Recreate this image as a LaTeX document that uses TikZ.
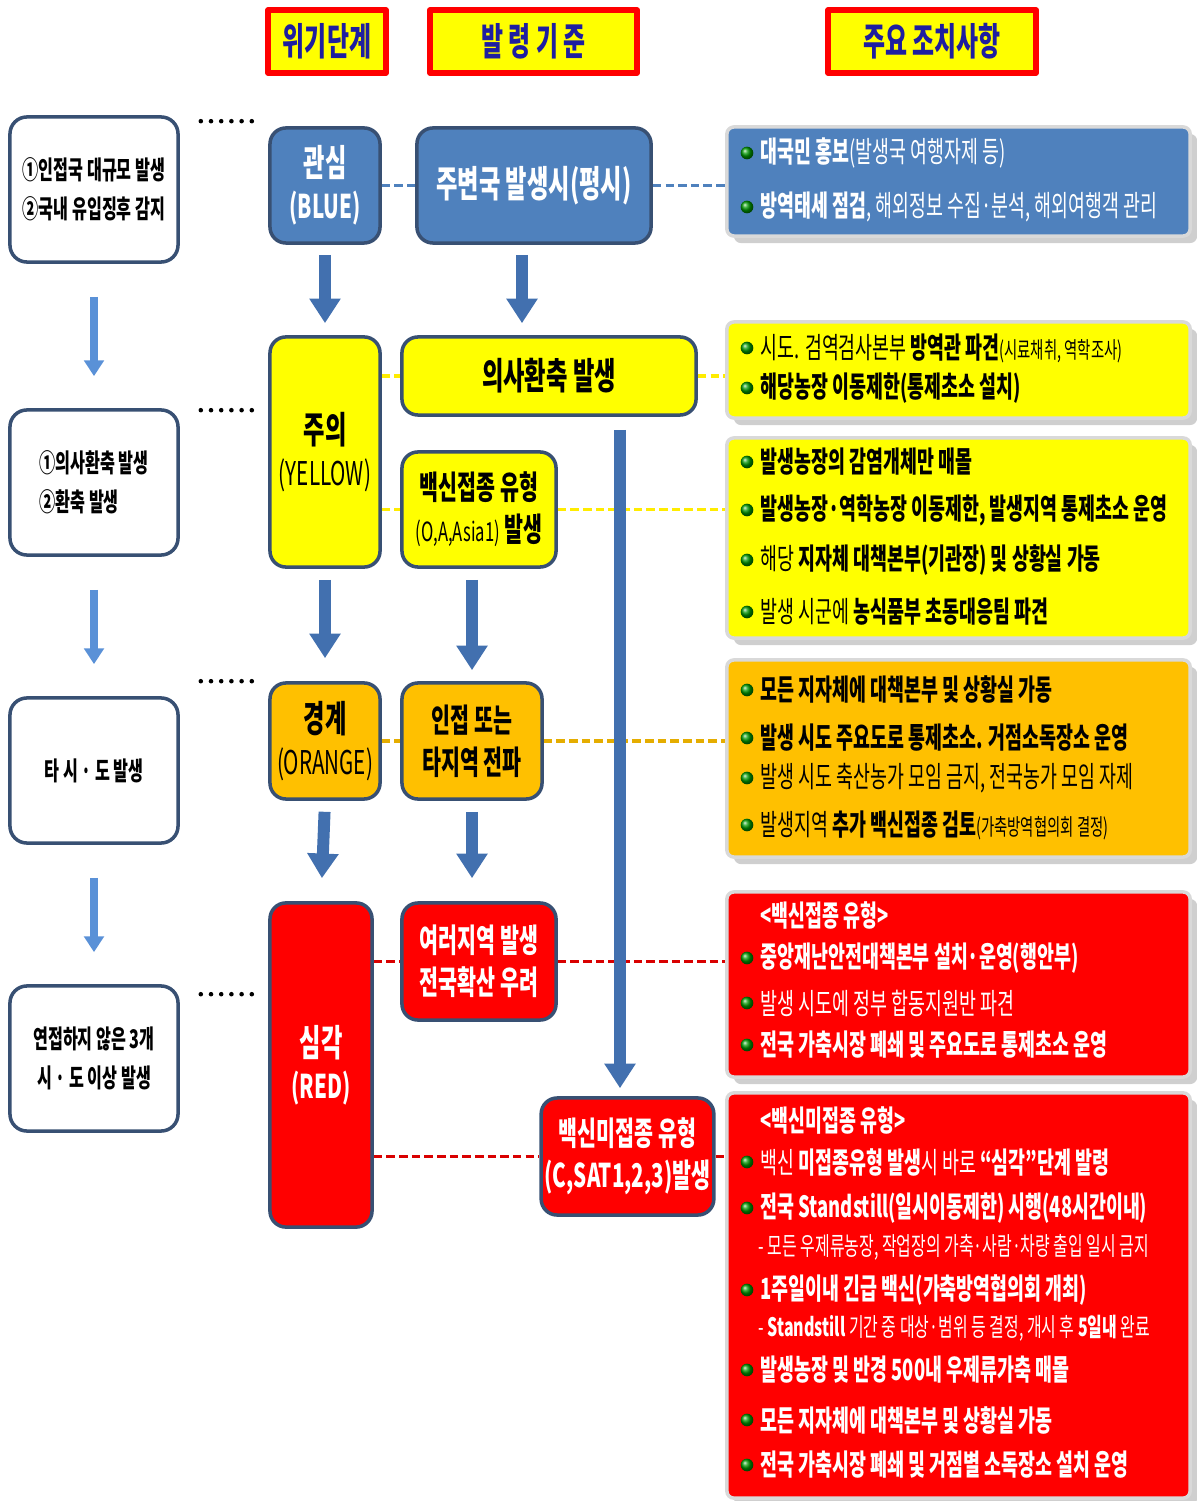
\documentclass[tikz,border=0pt]{standalone}
\usepackage{fontspec}
\setmainfont{Noto Sans CJK KR}[FakeStretch=0.63]
\usetikzlibrary{arrows.meta,shadows}
\definecolor{stblue}{RGB}{79,129,189}
\definecolor{arblue}{RGB}{66,112,175}
\definecolor{edge}{RGB}{56,80,115}
\definecolor{hdblue}{RGB}{30,30,160}
\definecolor{alarm}{RGB}{255,0,0}
\definecolor{amber}{RGB}{255,192,0}
\definecolor{lemon}{RGB}{255,255,0}
\definecolor{leftarr}{RGB}{90,145,215}
\newcommand\hsz{\fontsize{10.5}{13}\selectfont}
\newcommand\msz{\fontsize{9.3}{12}\selectfont}
\newcommand\lsz{\fontsize{8.3}{10}\selectfont}
\newcommand\ssm{\fontsize{6.5}{8}\selectfont}
\begin{document}
\begin{tikzpicture}[x=0.01cm,y=-0.01cm,line join=round,
	hd/.style={draw=red,line width=1.6pt,fill=lemon,text=hdblue,font=\fontsize{10.8}{12}\selectfont\bfseries,minimum height=0.63cm},
	lbox/.style={draw=edge,line width=1pt,rounded corners=0.17cm,fill=white,minimum width=1.68cm,minimum height=1.45cm,font=\fontsize{7.3}{11}\selectfont\bfseries},
	stg/.style={draw=edge,line width=1pt,rounded corners=0.16cm,align=center,inner sep=1pt,font=\bfseries},
	act/.style={draw=gray!30,line width=1pt,rounded corners=2pt,minimum width=4.63cm,drop shadow={shadow xshift=2pt,shadow yshift=-2pt,fill=gray!75}},
	bul/.style={circle,inner sep=0pt,minimum size=3.6pt,shading=ball,ball color={green!60!black}},
	itm/.style={anchor=west,inner sep=0pt,font=\lsz},
	larr/.style={leftarr,line width=2pt,-{Triangle[width=5.5pt,length=4.5pt]}},
	barr/.style={arblue,line width=3.4pt,-{Triangle[width=8.5pt,length=7pt]}},
	dl/.style={line width=1.1pt,dash pattern=on 2.4pt off 1.2pt},
	dots/.style={line width=1.3pt,line cap=round,dash pattern=on 0pt off 2.9pt}]
	\useasboundingbox (0,0) rectangle (1196,1501);
	% headers
	\node[hd,minimum width=1.18cm] (h1) at (327,41.5) {위기단계};
	\node[hd,minimum width=2.07cm] (h2) at (533.5,41.5) {발\ 령\ 기\ 준};
	\node[hd,minimum width=2.08cm] (h3) at (932,41.5) {주요 조치사항};
	% left column
	\node[lbox,align=left] (l1) at (94,189.5) {①인접국 대규모 발생\\②국내 유입징후 감지};
	\node[lbox,align=left] (l2) at (94,482.5) {①의사환축 발생\\②환축 발생};
	\node[lbox,align=center] (l3) at (94,770.5) {타 시 · 도 발생};
	\node[lbox,align=center] (l4) at (94,1058.5) {연접하지 않은 3개\\시 · 도 이상 발생};
	\foreach \a/\b in {l1/l2,l2/l3,l3/l4}
		\draw[larr,shorten <=0.33cm,shorten >=0.32cm] (\a.south) -- (\b.north);
	\foreach \n/\dy in {l1/6,l2/2,l3/-15,l4/10}
		\draw[dots] ([shift={(21,\dy)}]\n.north east) -- ++(58,0);
	% stages
	\node[stg,fill=stblue,text=white,minimum width=1.10cm,minimum height=1.15cm] (s1) at (325,185.5) {{\hsz 관심}\\{\msz (BLUE)}};
	\node[stg,fill=lemon,minimum width=1.10cm,minimum height=2.30cm] (s2) at (325,452) {{\hsz 주의}\\{\msz\mdseries (YELLOW)}};
	\node[stg,fill=amber,minimum width=1.10cm,minimum height=1.16cm] (s3) at (325,741) {{\hsz 경계}\\{\msz\mdseries (ORANGE)}};
	\node[stg,fill=alarm,text=white,minimum width=1.02cm,minimum height=3.24cm] (s4) at (321,1065) {{\hsz 심각}\\{\msz (RED)}};
	% criteria
	\node[stg,fill=stblue,text=white,minimum width=2.34cm,minimum height=1.15cm,font=\hsz\bfseries] (c1) at (534,185.5) {주변국 발생시(평시)};
	\node[stg,fill=lemon,minimum width=2.94cm,minimum height=0.78cm,font=\hsz\bfseries] (c2) at (549,376) {의사환축 발생};
	\node[stg,fill=lemon,minimum width=1.54cm,minimum height=1.15cm,font=\msz\bfseries] (c3) at (479,509.5) {백신접종 유형\\{\fontsize{7.5}{12}\selectfont\mdseries (O,A,Asia1)} 발생};
	\node[stg,fill=amber,minimum width=1.40cm,minimum height=1.16cm,font=\msz\bfseries] (c4) at (472,741) {인접 또는\\타지역 전파};
	\node[stg,fill=alarm,text=white,minimum width=1.54cm,minimum height=1.17cm,font=\msz\bfseries] (c5) at (479,961.5) {여러지역 발생\\전국확산 우려};
	\node[stg,fill=alarm,text=white,minimum width=1.69cm,minimum height=1.17cm,font=\msz\bfseries] (c6) at (627.5,1156.5) {백신미접종 유형\\(C,SAT1,2,3)발생};
	% measures
	\node[act,fill=stblue,minimum height=1.09cm] (r1) at (958.5,181.5) {};
	\node[act,fill=lemon,minimum height=0.96cm] (r2) at (958.5,370) {};
	\node[act,fill=lemon,minimum height=2.00cm] (r3) at (958.5,538) {};
	\node[act,fill=amber,minimum height=1.97cm] (r4) at (958.5,758.5) {};
	\node[act,fill=alarm,minimum height=1.85cm] (r5) at (958.5,984.5) {};
	\node[act,fill=alarm,minimum height=4.05cm] (r6) at (958.5,1295.5) {};
	% dashed links
	\draw[dl,stblue] (s1.east |- c1.west) -- (c1.west);
	\draw[dl,stblue] (c1.east) -- (c1.east -| r1.west);
	\draw[dl,lemon!85!orange] (s2.east |- c2.west) -- (c2.west);
	\draw[dl,lemon!85!orange] (c2.east) -- (c2.east -| r2.west);
	\draw[dl,lemon!85!orange] (s2.east |- c3.west) -- (c3.west);
	\draw[dl,lemon!85!orange] (c3.east) -- (c3.east -| r3.west);
	\draw[dl,amber!90!black] (s3.east) -- (c4.west);
	\draw[dl,amber!90!black] (c4.east) -- (c4.east -| r4.west);
	\draw[dl,red!85!black] (s4.east |- c5.west) -- (c5.west);
	\draw[dl,red!85!black] (c5.east) -- (c5.east -| r5.west);
	\draw[dl,red!85!black] (s4.east |- c6.west) -- (c6.west);
	\draw[dl,red!85!black] (c6.east) -- (c6.east -| r6.west);
	% flow arrows
	\draw[barr,shorten <=0.1cm,shorten >=0.12cm] (s1.south) -- (s2.north);
	\draw[barr,shorten <=0.1cm,shorten >=0.12cm] ([xshift=-0.12cm]c1.south) -- ([xshift=-0.12cm]c1.south |- c2.north);
	\draw[barr,shorten <=0.11cm,shorten >=0.23cm] (s2.south) -- (s3.north);
	\draw[barr,shorten <=0.11cm,shorten >=0.11cm] (c4.north |- c3.south) -- (c4.north);
	\draw[barr,shorten <=0.11cm,shorten >=0.23cm] (s3.south) -- (s4.north);
	\draw[barr,shorten <=0.11cm,shorten >=0.23cm] (c4.south) -- (c4.south |- c5.north);
	\draw[barr,shorten <=0.13cm,shorten >=0.08cm] ([xshift=-0.075cm]c6.north |- c2.south) -- ([xshift=-0.075cm]c6.north);
	% measure texts
	\foreach \y/\itx [count=\i] in {153/{\textbf{대국민 홍보}(발생국 여행자제 등)},
		207/{\textbf{방역태세 점검}, 해외정보 수집·분석, 해외여행객 관리}}
		{\node[bul] (b1\i) at (747,\y) {}; \node[itm,text=white] (t1\i) at (760,\y) {\itx};}
	\foreach \y/\itx [count=\i] in {348/{시도. 검역검사본부 \textbf{방역관 파견}{\ssm(시료채취, 역학조사)}},
		388/{\textbf{해당농장 이동제한(통제초소 설치)}}}
		{\node[bul] (b2\i) at (747,\y) {}; \node[itm] (t2\i) at (760,\y) {\itx};}
	\foreach \y/\itx [count=\i] in {462/{\textbf{발생농장의 감염개체만 매몰}},
		510/{\textbf{발생농장·역학농장 이동제한, 발생지역 통제초소 운영}},
		560/{해당 \textbf{지자체 대책본부(기관장) 및 상황실 가동}},
		612/{발생 시군에 \textbf{농식품부 초동대응팀 파견}}}
		{\node[bul] (b3\i) at (747,\y) {}; \node[itm] (t3\i) at (760,\y) {\itx};}
	\foreach \y/\itx [count=\i] in {690/{\textbf{모든 지자체에 대책본부 및 상황실 가동}},
		738/{\textbf{발생 시도 주요도로 통제초소. 거점소독장소 운영}},
		778/{발생 시도 축산농가 모임 금지, 전국농가 모임 자제},
		825/{발생지역 \textbf{추가 백신접종 검토}{\ssm(가축방역협의회 결정)}}}
		{\node[bul] (b4\i) at (747,\y) {}; \node[itm] (t4\i) at (760,\y) {\itx};}
	\node[itm,text=white] (k5) at (760,915) {\textbf{<백신접종 유형>}};
	\foreach \y/\itx [count=\i] in {958/{\textbf{중앙재난안전대책본부 설치·운영(행안부)}},
		1003/{발생 시도에 정부 합동지원반 파견},
		1045/{\textbf{전국 가축시장 폐쇄 및 주요도로 통제초소 운영}}}
		{\node[bul] (b5\i) at (747,\y) {}; \node[itm,text=white] (t5\i) at (760,\y) {\itx};}
	\node[itm,text=white] (k6) at (760,1120) {\textbf{<백신미접종 유형>}};
	\foreach \y/\itx [count=\i] in {1162/{백신 \textbf{미접종유형 발생}시 바로 \textbf{“심각”단계 발령}},
		1208/{\textbf{전국 Standstill(일시이동제한) 시행(48시간이내)}},
		1290/{\textbf{1주일이내 긴급 백신(가축방역협의회 개최)}},
		1370/{\textbf{발생농장 및 반경 500내 우제류가축 매몰}},
		1420/{\textbf{모든 지자체에 대책본부 및 상황실 가동}},
		1465/{\textbf{전국 가축시장 폐쇄 및 거점별 소독장소 설치 운영}}}
		{\node[bul] (b6\i) at (747,\y) {}; \node[itm,text=white] (t6\i) at (760,\y) {\itx};}
	\node[itm,text=white,font=\fontsize{7.2}{8}\selectfont] (d61) at (758,1247) {- 모든 우제류농장, 작업장의 가축·사람·차량 출입 일시 금지};
	\node[itm,text=white,font=\fontsize{7.2}{8}\selectfont] (d62) at (758,1328) {- \textbf{Standstill} 기간 중 대상·범위 등 결정, 개시 후 \textbf{5일내} 완료};
\end{tikzpicture}
\end{document}
